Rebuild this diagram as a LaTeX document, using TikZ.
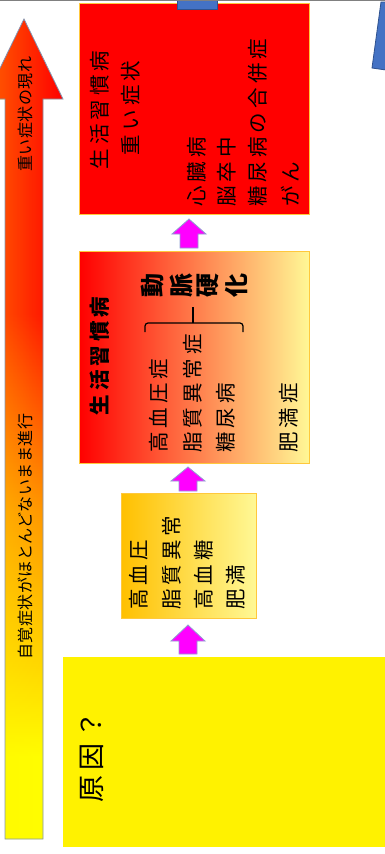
\documentclass[tikz,border=0pt]{standalone}
\usepackage{fontspec}
\newfontfamily\jp[LetterSpace=20]{Noto Sans CJK JP}
\newfontfamily\jpa[LetterSpace=3]{Noto Sans CJK JP}
\usetikzlibrary{fadings}
\definecolor{paleyel}{RGB}{255,248,150}
\definecolor{amber}{RGB}{255,192,0}
\definecolor{mag}{RGB}{255,0,255}
\definecolor{magline}{RGB}{143,160,210}
\definecolor{blueA}{RGB}{68,114,196}
\definecolor{blueB}{RGB}{47,82,143}
\definecolor{orangeA}{RGB}{255,140,0}
\definecolor{arrline}{RGB}{132,151,176}
\definecolor{boxline}{RGB}{255,200,60}
\pgfdeclareverticalshading{bigarrow}{100bp}{color(0bp)=(yellow); color(30bp)=(yellow); color(45bp)=(orangeA); color(57bp)=(red); color(100bp)=(red)}
\newcommand\blockup[4]{%
  \path[blockarrow] (#1,#2) -- (#1+17,#3) -- (#1+9,#3) -- (#1+9,#4) -- (#1-9,#4) -- (#1-9,#3) -- (#1-17,#3) -- cycle;}
\begin{document}
\begin{tikzpicture}[x=1pt,y=-1pt,
  txt/.style={inner sep=0pt, rotate=90, font=\jp\fontsize{20.5}{24}\selectfont},
  ltxt/.style={txt, anchor=west},
  btxt/.style={txt, font=\jp\bfseries\fontsize{20.5}{24}\selectfont},
  kanji/.style={inner sep=0pt, rotate=90, font=\jp\bfseries\fontsize{24}{26}\selectfont},
  atxt/.style={inner sep=0pt, rotate=90, anchor=west, font=\jpa\fontsize{16}{18}\selectfont},
  panel/.style={inner sep=0pt, anchor=north west, line width=0.8pt},
  blockarrow/.style={fill=mag, draw=magline, line width=0.8pt, line join=miter},
]
\useasboundingbox (0,0) rectangle (385,854);
\clip (0,0) rectangle (385,854);
\fill[white] (0,0) rectangle (385,854);

% big arrow
\shade[shading=bigarrow]
  (5,839) -- (5,99) -- (-15,99) -- (24,19) -- (63,99) -- (43,99) -- (43,839) -- cycle;
\fill[yellow, opacity=0.4, path fading=east]
  (5,839) -- (5,99) -- (-15,99) -- (24,19) -- (63,99) -- (43,99) -- (43,839) -- cycle;
\draw[arrline, line width=0.8pt]
  (5,839) -- (5,99) -- (-15,99) -- (24,19) -- (63,99) -- (43,99) -- (43,839) -- cycle;
\node[atxt] (a1) at (25,660) {自覚症状がほとんどないまま進行};
\node[atxt] (a2) at (25,172) {重い症状の現れ};

% panels
\node[panel, fill=red, draw=boxline, minimum width=230pt, minimum height=211pt] (b1) at (79,3) {};
\node[panel, left color=red, right color=paleyel, draw=boxline, minimum width=230pt, minimum height=212pt] (b2) at (79,251) {};
\node[panel, left color=amber, right color=paleyel, draw=boxline, minimum width=135pt, minimum height=125pt] (b3) at (121,493) {};
\node[panel, fill=yellow, minimum width=340pt, minimum height=190pt] (b4) at (63,657) {};

% block arrows
\blockup{189}{219}{234}{248}
\blockup{188}{467}{481}{491}
\blockup{188}{625}{641}{654}

% box 1 text
\node[txt] (t1a) at (100,110) {生活習慣病};
\node[txt] (t1b) at (131,108) {重い症状};
\node[ltxt] (t1c) at (197,207) {心臓病};
\node[ltxt] (t1d) at (227,207) {脳卒中};
\node[ltxt] (t1e) at (258,207) {糖尿病の合併症};
\node[ltxt] (t1f) at (290,207) {がん};

% box 2 text
\node[btxt] (t2a) at (100,356) {生活習慣病};
\node[ltxt] (t2b) at (159,453) {高血圧症};
\node[ltxt] (t2c) at (193,453) {脂質異常症};
\node[ltxt] (t2d) at (226,453) {糖尿病};
\node[ltxt] (t2e) at (289,453) {肥満症};
\node[kanji] (k1) at (153,285) {動};
\node[kanji] (k2) at (181,285) {脈};
\node[kanji] (k3) at (208,285) {硬};
\node[kanji] (k4) at (236,285) {化};
\draw[line width=1.2pt, rounded corners=3pt] (145,332) -- (145,323) -- (243,323) -- (243,332);
\draw[line width=1.2pt] (193,323) -- (193,307);

% box 3 text
\node[ltxt] (t3a) at (139,610) {高血圧};
\node[ltxt] (t3b) at (172,610) {脂質異常};
\node[ltxt] (t3c) at (204,610) {高血糖};
\node[ltxt] (t3d) at (236,610) {肥満};

% box 4 text
\node[inner sep=0pt, rotate=90, anchor=west, font=\jp\fontsize{27}{30}\selectfont] (t4) at (92,803) {原因？};

% blue shapes at top
\filldraw[fill=blueA, draw=blueB, line width=0.8pt] (177,-3) rectangle (217,9);
\filldraw[fill=blueA, draw=blueB, line width=0.8pt] (372,68) -- (381,2) -- (400,2) -- (400,72) -- cycle;
\draw[gray, line width=1.2pt] (0,0.6) -- (385,0.6);
\end{tikzpicture}
\end{document}
